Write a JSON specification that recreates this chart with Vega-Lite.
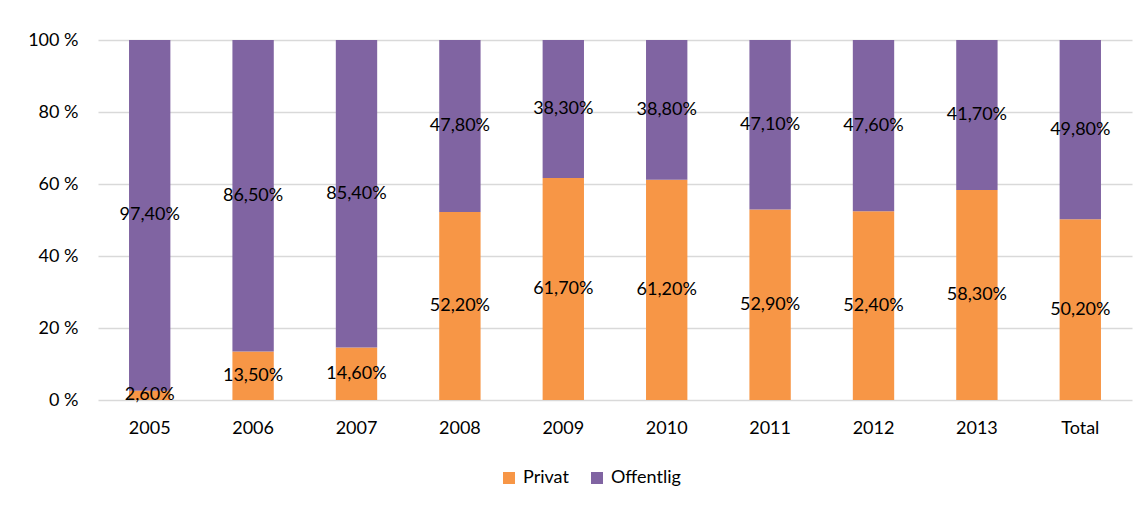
{
  "$schema": "https://vega.github.io/schema/vega-lite/v6.json",
  "width": 1034,
  "height": 360,
  "autosize": {"type": "none"},
  "padding": {"left": 98, "top": 40, "right": 16, "bottom": 106},
  "background": "white",
  "config": {
    "locale": {"number": {"decimal": ",", "thousands": " ", "grouping": [3], "currency": ["", " kr"]}},
    "font": "Lato",
    "view": {"stroke": null}
  },
  "data": {
    "values": [
      {"year": "2005", "sector": "Privat", "share": 0.026},
      {"year": "2005", "sector": "Offentlig", "share": 0.974},
      {"year": "2006", "sector": "Privat", "share": 0.135},
      {"year": "2006", "sector": "Offentlig", "share": 0.865},
      {"year": "2007", "sector": "Privat", "share": 0.146},
      {"year": "2007", "sector": "Offentlig", "share": 0.854},
      {"year": "2008", "sector": "Privat", "share": 0.522},
      {"year": "2008", "sector": "Offentlig", "share": 0.478},
      {"year": "2009", "sector": "Privat", "share": 0.617},
      {"year": "2009", "sector": "Offentlig", "share": 0.383},
      {"year": "2010", "sector": "Privat", "share": 0.612},
      {"year": "2010", "sector": "Offentlig", "share": 0.388},
      {"year": "2011", "sector": "Privat", "share": 0.529},
      {"year": "2011", "sector": "Offentlig", "share": 0.471},
      {"year": "2012", "sector": "Privat", "share": 0.524},
      {"year": "2012", "sector": "Offentlig", "share": 0.476},
      {"year": "2013", "sector": "Privat", "share": 0.583},
      {"year": "2013", "sector": "Offentlig", "share": 0.417},
      {"year": "Total", "sector": "Privat", "share": 0.502},
      {"year": "Total", "sector": "Offentlig", "share": 0.498}
    ]
  },
  "transform": [
    {"stack": "share", "groupby": ["year"], "sort": [{"field": "sector", "order": "descending"}], "as": ["y0", "y1"]},
    {"calculate": "(datum.y0 + datum.y1) / 2", "as": "mid"}
  ],
  "encoding": {
    "x": {
      "field": "year", "type": "nominal", "sort": null, "title": null,
      "scale": {"paddingInner": 0.6, "paddingOuter": 0.3},
      "axis": {"labelAngle": 0, "ticks": false, "domain": false, "labelPadding": 19, "labelFontSize": 18, "labelColor": "#000000", "labelFont": "Lato"}
    }
  },
  "layer": [
    {
      "mark": {"type": "bar"},
      "encoding": {
        "y": {
          "field": "y0", "type": "quantitative", "title": null,
          "scale": {"domain": [0, 1], "nice": false},
          "axis": {
            "values": [0, 0.2, 0.4, 0.6, 0.8, 1],
            "labelExpr": "round(datum.value * 100) + ' %'",
            "ticks": false, "domain": false, "labelPadding": 20,
            "labelFontSize": 18, "labelColor": "#000000",
            "gridColor": "#D9D9D9", "gridWidth": 1.5
          }
        },
        "y2": {"field": "y1"},
        "color": {
          "field": "sector", "type": "nominal",
          "scale": {"domain": ["Privat", "Offentlig"], "range": ["#F79646", "#8064A2"]},
          "legend": {
            "orient": "none", "legendX": 402, "legendY": 429, "direction": "horizontal",
            "title": null, "symbolType": "square", "symbolSize": 144,
            "labelFontSize": 18, "labelColor": "#000000", "labelOffset": 5,
            "columnPadding": 19, "symbolStrokeWidth": 0, "padding": 0
          }
        }
      }
    },
    {
      "mark": {"type": "text", "fontSize": 18, "color": "#000000", "baseline": "middle", "align": "center"},
      "encoding": {
        "y": {"field": "mid", "type": "quantitative"},
        "text": {"field": "share", "type": "quantitative", "format": ".2%"}
      }
    }
  ]
}
